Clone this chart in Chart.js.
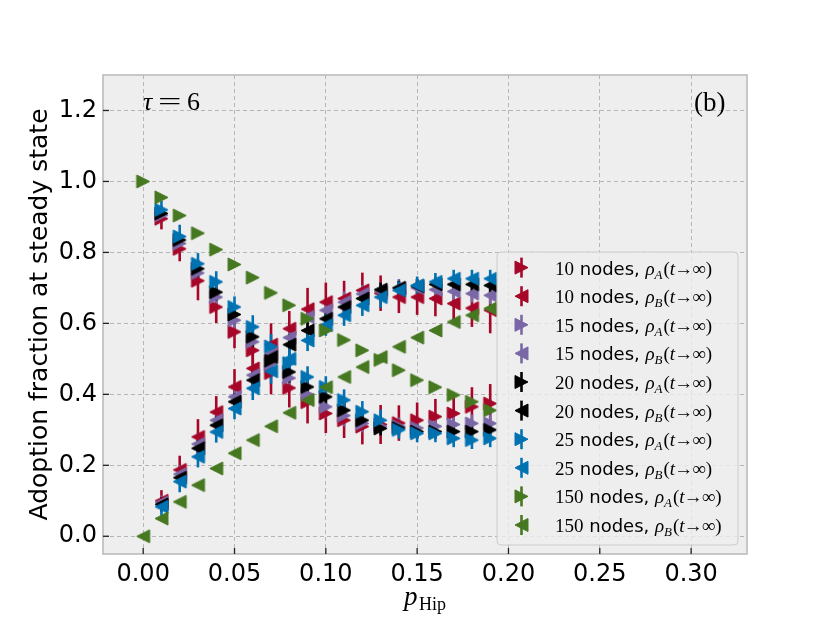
<!DOCTYPE html>
<html lang="en">
<head>
<meta charset="UTF-8">
<title>Adoption fraction at steady state</title>
<script src="https://cdn.jsdelivr.net/npm/chart.js"></script>
<style>
  html, body { margin: 0; padding: 0; background: #fff; }
  #wrap { width: 830px; height: 623px; }
</style>
</head>
<body>
<div id="wrap"><canvas id="chart" width="830" height="623"></canvas></div>
<script>
// hipster probability (x)
const pHip = [0.00, 0.01, 0.02, 0.03, 0.04, 0.05, 0.06, 0.07, 0.08, 0.09,
              0.10, 0.11, 0.12, 0.13, 0.14, 0.15, 0.16, 0.17, 0.18, 0.19];
const xTicks = [0.00, 0.05, 0.10, 0.15, 0.20, 0.25, 0.30];
const yTicks = [0.0, 0.2, 0.4, 0.6, 0.8, 1.0, 1.2];
const sizes = ['10', '15', '20', '25', '150'];

// steady state adoption fractions (null = no visible point)
const rhoA10 = [null, 0.895, 0.81, 0.72, 0.646, 0.576, 0.524, 0.46, 0.418, 0.378, 0.346, 0.327, 0.309, 0.315, 0.319, 0.327, 0.337, 0.346, 0.365, 0.374];
const rhoB10 = [null, 0.10, 0.187, 0.28, 0.35, 0.421, 0.473, 0.54, 0.585, 0.64, 0.66, 0.67, 0.693, 0.685, 0.674, 0.674, 0.67, 0.656, 0.643, 0.637];
const rhoA15 = [null, 0.905, 0.825, 0.742, 0.674, 0.609, 0.548, 0.485, 0.446, 0.40, 0.365, 0.34, 0.318, 0.31, 0.31, 0.305, 0.31, 0.315, 0.318, 0.318];
const rhoB15 = [null, 0.095, 0.175, 0.26, 0.327, 0.393, 0.454, 0.515, 0.56, 0.618, 0.637, 0.66, 0.683, 0.69, 0.70, 0.70, 0.695, 0.69, 0.684, 0.679];
const rhoA20 = [null, 0.91, 0.835, 0.754, 0.688, 0.625, 0.562, 0.495, 0.463, 0.421, 0.393, 0.355, 0.327, 0.304, 0.305, 0.295, 0.295, 0.295, 0.295, 0.30];
const rhoB20 = [null, 0.09, 0.165, 0.248, 0.313, 0.379, 0.44, 0.505, 0.54, 0.58, 0.613, 0.646, 0.67, 0.695, 0.70, 0.705, 0.71, 0.71, 0.71, 0.707];
const rhoA25 = [null, 0.92, 0.845, 0.768, 0.717, 0.646, 0.59, 0.535, 0.488, 0.449, 0.421, 0.384, 0.351, 0.327, 0.30, 0.29, 0.29, 0.276, 0.271, 0.276];
const rhoB25 = [null, 0.083, 0.154, 0.224, 0.294, 0.36, 0.417, 0.465, 0.50, 0.552, 0.595, 0.623, 0.651, 0.674, 0.693, 0.707, 0.717, 0.726, 0.726, 0.726];
const rhoA150 = [1.0, 0.955, 0.904, 0.854, 0.808, 0.766, 0.729, 0.686, 0.651, 0.613, 0.58, 0.553, 0.524, 0.497, 0.468, 0.44, 0.42, 0.398, 0.379, 0.355];
const rhoB150 = [0.0, 0.05, 0.097, 0.144, 0.191, 0.234, 0.271, 0.31, 0.348, 0.384, 0.42, 0.449, 0.477, 0.505, 0.534, 0.56, 0.58, 0.604, 0.623, 0.642];

// error bar half-lengths
const errA10 = [0, 0.03, 0.035, 0.055, 0.045, 0.046, 0.05, 0.06, 0.055, 0.06, 0.055, 0.05, 0.05, 0.055, 0.05, 0.05, 0.05, 0.055, 0.055, 0.055];
const errB10 = [0, 0.03, 0.04, 0.05, 0.045, 0.05, 0.055, 0.06, 0.05, 0.06, 0.055, 0.05, 0.05, 0.05, 0.045, 0.05, 0.05, 0.05, 0.053, 0.065];
const errA15 = [0, 0.02, 0.025, 0.025, 0.03, 0.03, 0.03, 0.035, 0.03, 0.03, 0.03, 0.03, 0.025, 0.025, 0.025, 0.025, 0.025, 0.025, 0.025, 0.025];
const errB15 = [0, 0.02, 0.025, 0.03, 0.03, 0.03, 0.03, 0.035, 0.03, 0.03, 0.03, 0.03, 0.025, 0.025, 0.025, 0.025, 0.025, 0.025, 0.025, 0.025];
const errA20 = [0, 0.02, 0.02, 0.025, 0.025, 0.025, 0.03, 0.03, 0.03, 0.025, 0.025, 0.025, 0.02, 0.02, 0.02, 0.02, 0.02, 0.02, 0.02, 0.02];
const errB20 = [0, 0.02, 0.02, 0.025, 0.025, 0.025, 0.03, 0.03, 0.03, 0.025, 0.025, 0.025, 0.02, 0.02, 0.02, 0.02, 0.02, 0.02, 0.02, 0.02];
const errA25 = [0, 0.025, 0.033, 0.03, 0.03, 0.03, 0.033, 0.035, 0.03, 0.03, 0.03, 0.03, 0.03, 0.03, 0.025, 0.025, 0.025, 0.025, 0.025, 0.025];
const errB25 = [0, 0.025, 0.03, 0.03, 0.03, 0.03, 0.033, 0.035, 0.03, 0.03, 0.03, 0.03, 0.03, 0.03, 0.025, 0.025, 0.025, 0.025, 0.025, 0.025];
const errA150 = [0, 0.006, 0.006, 0.007, 0.007, 0.008, 0.008, 0.008, 0.008, 0.008, 0.008, 0.008, 0.008, 0.008, 0.008, 0.008, 0.008, 0.008, 0.008, 0.008];
const errB150 = [0, 0.006, 0.006, 0.007, 0.007, 0.008, 0.008, 0.008, 0.008, 0.008, 0.008, 0.008, 0.008, 0.008, 0.008, 0.008, 0.008, 0.008, 0.008, 0.008];

const colors = { '10': '#A60628', '15': '#7A68A6', '20': '#000000', '25': '#0072B2', '150': '#467821' };

const series = [
    { n: '10', s: 'A', y: rhoA10, e: errA10 },
    { n: '10', s: 'B', y: rhoB10, e: errB10 },
    { n: '15', s: 'A', y: rhoA15, e: errA15 },
    { n: '15', s: 'B', y: rhoB15, e: errB15 },
    { n: '20', s: 'A', y: rhoA20, e: errA20 },
    { n: '20', s: 'B', y: rhoB20, e: errB20 },
    { n: '25', s: 'A', y: rhoA25, e: errA25 },
    { n: '25', s: 'B', y: rhoB25, e: errB25 },
    { n: '150', s: 'A', y: rhoA150, e: errA150 },
    { n: '150', s: 'B', y: rhoB150, e: errB150 }
];

const SERIF = '"Liberation Serif", "DejaVu Serif", serif';
const SANS = '"DejaVu Sans", sans-serif';

// matplotlib-like triangle marker ('>' or '<')
function triangle(color, dir) {
    const s = 13, pad = 2;
    const c = document.createElement('canvas');
    c.width = c.height = s + 2 * pad;
    const g = c.getContext('2d');
    const m = c.width / 2, h = s / 2;
    g.fillStyle = color;
    g.strokeStyle = color;
    g.lineWidth = 1;
    g.beginPath();
    if (dir > 0) {
        g.moveTo(m + h, m); g.lineTo(m - h, m - h); g.lineTo(m - h, m + h);
    } else {
        g.moveTo(m - h, m); g.lineTo(m + h, m - h); g.lineTo(m + h, m + h);
    }
    g.closePath();
    g.fill();
    g.stroke();
    return c;
}

const datasets = series.map((sr, i) => ({
    label: sr.n + ' nodes, rho_' + sr.s,
    data: pHip.map((x, k) => ({ x: x, y: sr.y[k] })),
    err: sr.e,
    color: colors[sr.n],
    pointStyle: triangle(colors[sr.n], sr.s === 'A' ? 1 : -1),
    pointRadius: 6,
    showLine: false,
    order: series.length - i
}));

// background of the axes
const bgPlugin = {
    id: 'bg',
    beforeDraw(chart) {
        const { ctx, chartArea: a } = chart;
        ctx.save();
        ctx.fillStyle = '#ffffff';
        ctx.fillRect(0, 0, chart.width, chart.height);
        ctx.fillStyle = '#eeeeee';
        ctx.fillRect(a.left, a.top, a.right - a.left, a.bottom - a.top);
        ctx.restore();
    }
};

// vertical error bars, drawn under all markers
const errorBars = {
    id: 'errorBars',
    beforeDatasetsDraw(chart) {
        const { ctx, chartArea: a, scales } = chart;
        ctx.save();
        ctx.beginPath();
        ctx.rect(a.left, a.top, a.right - a.left, a.bottom - a.top);
        ctx.clip();
        ctx.lineWidth = 2.6;
        chart.data.datasets.forEach(ds => {
            ctx.strokeStyle = ds.color;
            ds.data.forEach((p, k) => {
                const e = ds.err[k];
                if (!e || p.y === null) return;
                const x = scales.x.getPixelForValue(p.x);
                ctx.beginPath();
                ctx.moveTo(x, scales.y.getPixelForValue(p.y - e));
                ctx.lineTo(x, scales.y.getPixelForValue(p.y + e));
                ctx.stroke();
            });
        });
        ctx.restore();
    }
};

function drawTri(ctx, x, y, color, dir) {
    const h = 6.5;
    ctx.fillStyle = color;
    ctx.strokeStyle = color;
    ctx.lineWidth = 1;
    ctx.beginPath();
    ctx.moveTo(x + dir * h, y);
    ctx.lineTo(x - dir * h, y - h);
    ctx.lineTo(x - dir * h, y + h);
    ctx.closePath();
    ctx.fill();
    ctx.stroke();
}

// writes text pieces left to right: [text, font, dy, extra advance]
function drawRuns(ctx, x, y, runs) {
    runs.forEach(r => {
        ctx.font = r[1];
        ctx.fillText(r[0], x, y + (r[2] || 0));
        x += ctx.measureText(r[0]).width + (r[3] || 0);
    });
}

const decor = {
    id: 'decor',
    afterDraw(chart) {
        const { ctx, chartArea: a, scales } = chart;
        ctx.save();
        // frame
        ctx.strokeStyle = '#bcbcbc';
        ctx.lineWidth = 1.6;
        ctx.strokeRect(a.left, a.top, a.right - a.left, a.bottom - a.top);
        // inward ticks
        ctx.strokeStyle = '#222';
        ctx.lineWidth = 1.3;
        xTicks.forEach(v => {
            const x = scales.x.getPixelForValue(v);
            ctx.beginPath(); ctx.moveTo(x, a.bottom); ctx.lineTo(x, a.bottom - 6); ctx.stroke();
        });
        yTicks.forEach(v => {
            const y = scales.y.getPixelForValue(v);
            ctx.beginPath(); ctx.moveTo(a.left, y); ctx.lineTo(a.left + 6, y); ctx.stroke();
        });

        ctx.fillStyle = '#000';
        ctx.textBaseline = 'alphabetic';
        ctx.textAlign = 'left';
        // panel texts
        ctx.font = 'italic 26px ' + SERIF;
        ctx.fillText('\u03c4', 143, 110);
        ctx.font = '26px ' + SERIF;
        ctx.save();
        ctx.translate(158, 110);
        ctx.scale(1.6, 1);
        ctx.fillText('=', 0, 0);
        ctx.restore();
        ctx.fillText('6', 187, 110);
        ctx.font = '27px ' + SERIF;
        ctx.fillText('(b)', 694, 111);

        // x label
        ctx.font = 'italic 27px ' + SERIF;
        ctx.fillText('p', 404, 605);
        ctx.font = '18px ' + SERIF;
        ctx.fillText('Hip', 419, 610);

        // y label
        ctx.save();
        ctx.translate(47, (a.top + a.bottom) / 2);
        ctx.rotate(-Math.PI / 2);
        ctx.textAlign = 'center';
        ctx.font = '25px ' + SANS;
        ctx.fillText('Adoption fraction at steady state', 0, 0);
        ctx.restore();

        // legend
        const lx = 497, ly = 252, lw = 241, lh = 293;
        ctx.beginPath();
        ctx.roundRect(lx, ly, lw, lh, 4);
        ctx.fillStyle = 'rgba(238,238,238,0.8)';
        ctx.fill();
        ctx.strokeStyle = '#cccccc';
        ctx.lineWidth = 1;
        ctx.stroke();
        series.forEach((sr, i) => {
            const cy = 267.6 + i * 28.6;
            const col = colors[sr.n];
            ctx.strokeStyle = col;
            ctx.lineWidth = 2.6;
            ctx.beginPath(); ctx.moveTo(521.5, cy - 10); ctx.lineTo(521.5, cy + 10); ctx.stroke();
            drawTri(ctx, 521.5, cy, col, sr.s === 'A' ? 1 : -1);
            ctx.fillStyle = '#000';
            drawRuns(ctx, 555, cy + 7, [
                [sr.n, '19px ' + SERIF],
                [' nodes, ', '18px ' + SANS],
                ['\u03c1', 'italic 19px ' + SERIF],
                [sr.s, 'italic 13px ' + SERIF, 4, 1],
                ['(', '19px ' + SERIF],
                ['t', 'italic 19px ' + SERIF, 0, -1],
                ['\u2192', '19px ' + SERIF, 0, -1],
                ['\u221e', '19px ' + SERIF],
                [')', '19px ' + SERIF]
            ]);
        });
        ctx.restore();
    }
};

const ctx = document.getElementById('chart').getContext('2d');
new Chart(ctx, {
    type: 'scatter',
    data: { datasets: datasets },
    options: {
        responsive: false,
        animation: false,
        layout: { padding: { left: 0, right: 83, top: 75, bottom: 0 } },
        plugins: { legend: { display: false }, tooltip: { enabled: false } },
        scales: {
            x: {
                type: 'linear',
                min: -0.022,
                max: 0.3306,
                afterFit: s => { s.height = 69; },
                afterBuildTicks: s => { s.ticks = xTicks.map(v => ({ value: v })); },
                ticks: {
                    callback: v => v.toFixed(2),
                    font: { family: SANS, size: 24 },
                    color: '#000',
                    padding: 6,
                    maxRotation: 0,
                    autoSkip: false
                },
                grid: { color: '#b5b5b5', lineWidth: 1, drawTicks: false },
                border: { display: false, dash: [4, 3] }
            },
            y: {
                type: 'linear',
                min: -0.05,
                max: 1.3,
                afterFit: s => { s.width = 103; },
                afterBuildTicks: s => { s.ticks = yTicks.map(v => ({ value: v })); },
                ticks: {
                    callback: v => v.toFixed(1),
                    font: { family: SANS, size: 24 },
                    color: '#000',
                    padding: 6,
                    autoSkip: false
                },
                grid: { color: '#b5b5b5', lineWidth: 1, drawTicks: false },
                border: { display: false, dash: [4, 3] }
            }
        }
    },
    plugins: [bgPlugin, errorBars, decor]
});
</script>
</body>
</html>
